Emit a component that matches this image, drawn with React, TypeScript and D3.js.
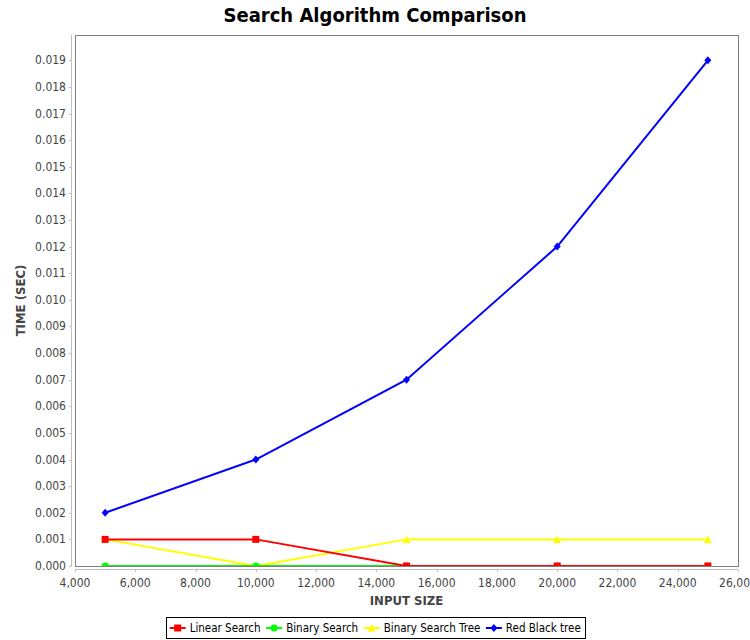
import React from "react";
import * as d3 from "d3";

const inputSizes = [5000, 10000, 15000, 20000, 25000];
const linearSearch = [0.001, 0.001, 0.0, 0.0, 0.0];
const binarySearch = [0.0, 0.0, 0.0, 0.0, 0.0];
const binarySearchTree = [0.001, 0.0, 0.001, 0.001, 0.001];
const redBlackTree = [0.002, 0.004, 0.007, 0.012, 0.019];

const seriesNames = ["Linear Search", "Binary Search", "Binary Search Tree", "Red Black tree"];
const seriesColors = ["#ff0000", "#00ff00", "#ffff00", "#0000ff"];
const seriesShapes = ["square", "circle", "triangle", "diamond"];
const seriesValues = [linearSearch, binarySearch, binarySearchTree, redBlackTree];

const yTicks = d3.range(0, 20).map((i) => i / 1000);
const xTicks = d3.range(4000, 26001, 2000);

const W = 750;
const H = 640;
const plot = { left: 75, right: 738, top: 35, bottom: 566 };
const FONT = "'DejaVu Sans Condensed', 'DejaVu Sans', sans-serif";

function shapePath(shape: string, cx: number, cy: number): string {
  const s = 3.5;
  switch (shape) {
    case "square":
      return `M${cx - s},${cy - s}h${2 * s}v${2 * s}h${-2 * s}Z`;
    case "circle":
      return `M${cx - s},${cy}a${s},${s} 0 1,0 ${2 * s},0a${s},${s} 0 1,0 ${-2 * s},0Z`;
    case "triangle":
      return `M${cx},${cy - s - 0.5}L${cx + s + 0.5},${cy + s}L${cx - s - 0.5},${cy + s}Z`;
    default:
      return `M${cx},${cy - s - 0.5}L${cx + s},${cy}L${cx},${cy + s + 0.5}L${cx - s},${cy}Z`;
  }
}

function measure(text: string, font: string): number {
  const c = document.createElement("canvas");
  const ctx = c.getContext("2d");
  if (!ctx) return text.length * 6;
  ctx.font = font;
  return ctx.measureText(text).width;
}

export default function App() {
  const x = d3.scaleLinear().domain([4000, 26000]).range([plot.left, plot.right]);
  const y = d3.scaleLinear().domain([0, 0.01995]).range([plot.bottom, plot.top]);
  const line = d3
    .line<[number, number]>()
    .x((d) => x(d[0]))
    .y((d) => y(d[1]));

  const fmtX = d3.format(",");
  const fmtY = d3.format(".3f");

  // legend layout
  const legendFontSize = 11.5;
  const legendFont = `${legendFontSize}px 'DejaVu Sans Condensed', 'DejaVu Sans', sans-serif`;
  const sampleW = 16;
  const gapAfterSample = 4;
  const gapBetween = 3.5;
  const widths = seriesNames.map((n) => measure(n, legendFont));
  const itemWidths = widths.map((w) => 2 + sampleW + gapAfterSample + w + gapBetween);
  const totalW = d3.sum(itemWidths) + 2;
  const legendX = W / 2 - totalW / 2;
  const legendY = 617;
  const legendH = 21;
  let cursor = legendX + 2;
  const legendItems = seriesNames.map((n, i) => {
    const start = cursor;
    cursor += itemWidths[i];
    return { name: n, i, start };
  });

  const drawOrder = [3, 2, 1, 0];

  return (
    <svg
      width={W}
      height={H}
      style={{ position: "absolute", left: 0, top: 0, background: "#fff" }}
      fontFamily={FONT}
    >
      <defs>
        <clipPath id="plotclip">
          <rect x={plot.left} y={plot.top} width={plot.right - plot.left} height={plot.bottom - plot.top} />
        </clipPath>
      </defs>
      <rect x={0} y={0} width={W} height={H} fill="#fff" />
      <text
        x={W / 2}
        y={22}
        textAnchor="middle"
        fontSize={20}
        fontWeight="bold"
        fill="#000"
      >
        Search Algorithm Comparison
      </text>

      {/* plot area */}
      <rect
        x={plot.left}
        y={plot.top}
        width={plot.right - plot.left}
        height={plot.bottom - plot.top}
        fill="#fff"
        stroke="#808080"
        strokeWidth={1}
        shapeRendering="crispEdges"
      />

      {/* y axis */}
      <line x1={71.5} x2={71.5} y1={plot.top} y2={plot.bottom} stroke="#c0c0c0" shapeRendering="crispEdges" />
      {yTicks.map((t) => (
        <g key={"y" + t}>
          <line x1={69} x2={71.5} y1={Math.round(y(t)) + 0.5} y2={Math.round(y(t)) + 0.5} stroke="#c0c0c0" shapeRendering="crispEdges" />
          <text x={66} y={y(t) + 4} textAnchor="end" fontSize={12} fill="#444">
            {fmtY(t)}
          </text>
        </g>
      ))}
      <text
        transform={`translate(25,${(plot.top + plot.bottom) / 2}) rotate(-90)`}
        textAnchor="middle"
        fontSize={13}
        fontWeight="bold"
        fill="#444"
      >
        TIME (SEC)
      </text>

      {/* x axis */}
      <line x1={plot.left} x2={plot.right} y1={569.5} y2={569.5} stroke="#c0c0c0" shapeRendering="crispEdges" />
      {xTicks.map((t) => (
        <g key={"x" + t}>
          <line x1={Math.round(x(t)) + 0.5} x2={Math.round(x(t)) + 0.5} y1={569.5} y2={572} stroke="#c0c0c0" shapeRendering="crispEdges" />
          <text x={x(t)} y={587} textAnchor="middle" fontSize={12} fill="#444">
            {fmtX(t)}
          </text>
        </g>
      ))}
      <text
        x={(plot.left + plot.right) / 2}
        y={605}
        textAnchor="middle"
        fontSize={13}
        fontWeight="bold"
        fill="#444"
      >
        INPUT SIZE
      </text>

      {/* series */}
      <g clipPath="url(#plotclip)">
        {drawOrder.map((si) => {
          const pts: [number, number][] = inputSizes.map((xs, k) => [xs, seriesValues[si][k]]);
          return (
            <g key={"s" + si}>
              <path d={line(pts) || ""} fill="none" stroke={seriesColors[si]} strokeWidth={2} />
              {pts.map((p, k) => (
                <path key={k} d={shapePath(seriesShapes[si], x(p[0]), y(p[1]))} fill={seriesColors[si]} />
              ))}
            </g>
          );
        })}
      </g>

      {/* legend */}
      <rect
        x={Math.round(legendX) + 0.5}
        y={legendY + 0.5}
        width={Math.round(totalW)}
        height={legendH}
        fill="#fff"
        stroke="#000"
        strokeWidth={1}
        shapeRendering="crispEdges"
      />
      {legendItems.map((it) => {
        const cy = legendY + legendH / 2 + 0.5;
        const sx = it.start + 2;
        return (
          <g key={"l" + it.i}>
            <line x1={sx} x2={sx + sampleW} y1={cy} y2={cy} stroke={seriesColors[it.i]} strokeWidth={2} />
            <path d={shapePath(seriesShapes[it.i], sx + sampleW / 2, cy)} fill={seriesColors[it.i]} />
            <text x={sx + sampleW + gapAfterSample} y={cy + 4} fontSize={legendFontSize} fill="#000">
              {it.name}
            </text>
          </g>
        );
      })}
    </svg>
  );
}
